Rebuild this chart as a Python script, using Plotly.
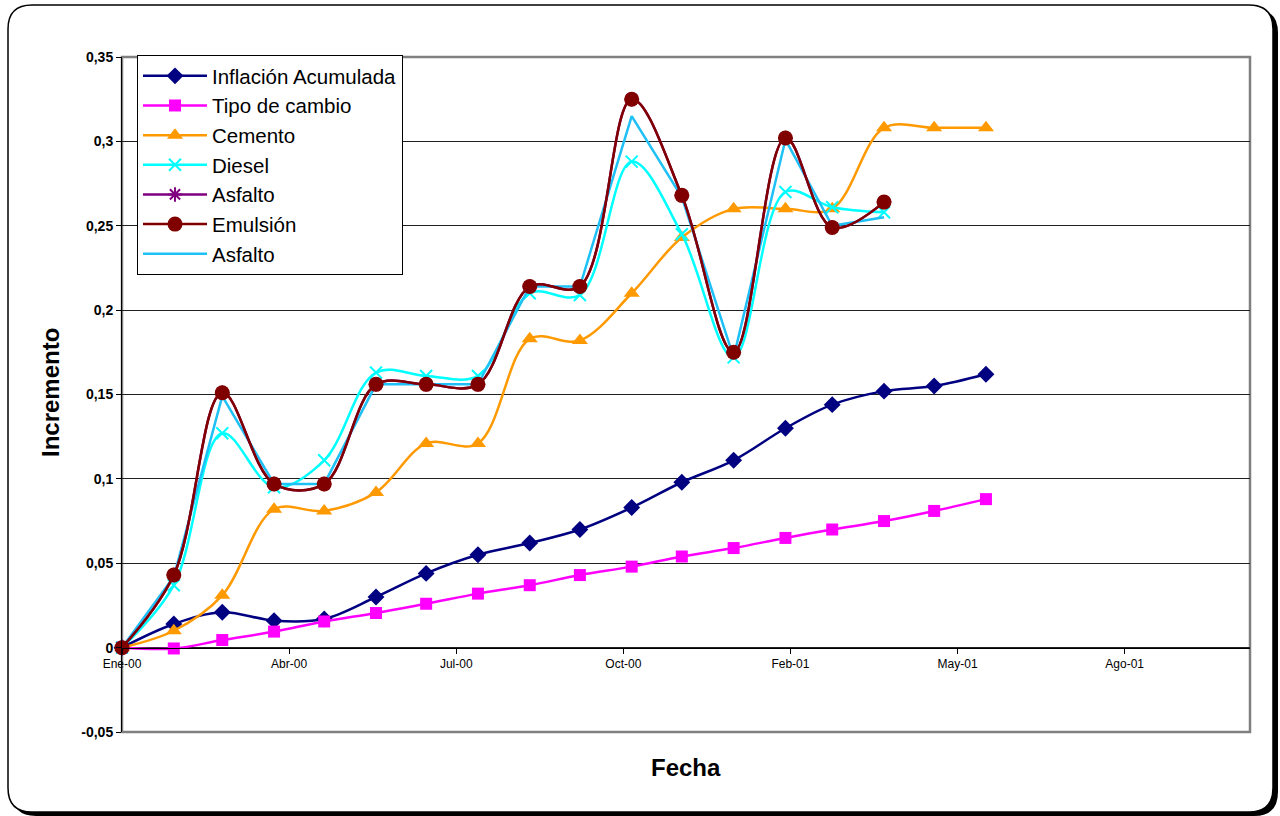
import plotly.graph_objects as go

# monthly observations (first day of each month)
dates = ["2000-01-01", "2000-02-01", "2000-03-01", "2000-04-01", "2000-05-01", "2000-06-01",
         "2000-07-01", "2000-08-01", "2000-09-01", "2000-10-01", "2000-11-01", "2000-12-01",
         "2001-01-01", "2001-02-01", "2001-03-01", "2001-04-01", "2001-05-01", "2001-06-01"]

inflacion = [0, 0.014, 0.021, 0.016, 0.017, 0.030, 0.044, 0.055, 0.062, 0.070, 0.083, 0.098,
             0.111, 0.130, 0.144, 0.152, 0.155, 0.162]
tipo_cambio = [0, -0.0005, 0.0045, 0.0095, 0.0155, 0.0205, 0.026, 0.032, 0.037, 0.043, 0.048,
               0.054, 0.059, 0.065, 0.070, 0.075, 0.081, 0.088]
cemento = [0, 0.010, 0.031, 0.082, 0.081, 0.092, 0.121, 0.121, 0.183, 0.182, 0.210, 0.243,
           0.260, 0.260, 0.260, 0.308, 0.308, 0.308]
diesel = [0, 0.037, 0.127, 0.095, 0.111, 0.163, 0.161, 0.161, 0.210, 0.209, 0.288, 0.245,
          0.172, 0.270, 0.261, 0.258]
asfalto = [0, 0.043, 0.151, 0.097, 0.097, 0.156, 0.156, 0.156, 0.214, 0.214, 0.325, 0.268,
           0.175, 0.302, 0.249, 0.264]
emulsion = [0, 0.043, 0.151, 0.097, 0.097, 0.156, 0.156, 0.156, 0.214, 0.214, 0.325, 0.268,
            0.175, 0.302, 0.249, 0.264]
asfalto_2 = [0, 0.042, 0.149, 0.097, 0.097, 0.156, 0.156, 0.156, 0.214, 0.214, 0.315, 0.267,
             0.172, 0.301, 0.250, 0.255]

# x ticks every 100 days, as in the original spreadsheet
x_tick_dates = ["2000-01-01", "2000-04-10", "2000-07-19", "2000-10-27", "2001-02-04",
                "2001-05-15", "2001-08-23"]
x_tick_labels = ["Ene-00", "Abr-00", "Jul-00", "Oct-00", "Feb-01", "May-01", "Ago-01"]
y_tick_vals = [-0.05, 0, 0.05, 0.1, 0.15, 0.2, 0.25, 0.3, 0.35]
y_tick_labels = ["-0,05", "0", "0,05", "0,1", "0,15", "0,2", "0,25", "0,3", "0,35"]

W, H = 1280, 816
L, R, T, B = 122, 30, 57, 84
FONT = "Arial, Liberation Sans, sans-serif"


def to_paper(px, py):
    return (px - L) / (W - L - R), (H - B - py) / (H - T - B)


def rounded_rect(x0, y0, x1, y1, r):
    pts = [("M", x0 + r, y0), ("L", x1 - r, y0), ("Q", x1, y0), ("", x1, y0 + r),
           ("L", x1, y1 - r), ("Q", x1, y1), ("", x1 - r, y1), ("L", x0 + r, y1),
           ("Q", x0, y1), ("", x0, y1 - r), ("L", x0, y0 + r), ("Q", x0, y0), ("", x0 + r, y0)]
    out = []
    for cmd, px, py in pts:
        a, b = to_paper(px, py)
        out.append(f"{cmd}{a:.5f},{b:.5f}")
    return " ".join(out) + " Z"


fig = go.Figure()

series = [
    # name, values, color, symbol, size, rank, smooth
    ("Inflación Acumulada", inflacion, "#000080", "diamond", 13, 1, True),
    ("Tipo de cambio", tipo_cambio, "#FF00FF", "square", 12, 2, True),
    ("Cemento", cemento, "#FF9900", "triangle-up", 14, 3, True),
    ("Diesel", diesel, "#00FFFF", "x-thin", 12, 4, True),
    ("Asfalto", asfalto_2, "#1EC0F5", None, 0, 7, False),
    ("Asfalto", asfalto, "#800080", "asterisk", 12, 5, True),
    ("Emulsión", emulsion, "#800000", "circle", 15, 6, True),
]

for name, vals, color, symbol, size, rank, smooth in series:
    line = dict(color=color, width=2.5)
    if smooth:
        line.update(shape="spline", smoothing=1)
    kw = {}
    if symbol:
        kw["mode"] = "lines+markers"
        kw["marker"] = dict(symbol=symbol, size=size, color=color,
                            line=dict(color=color, width=2 if symbol in ("x-thin", "asterisk") else 0))
    else:
        kw["mode"] = "lines"
    fig.add_trace(go.Scatter(
        x=dates[:len(vals)], y=vals, name=name, line=line,
        legendrank=rank, legendgroup=f"g{rank}", cliponaxis=False, **kw
    ))

frame_shadow = rounded_rect(12, 9, 1278, 816, 24)
frame = rounded_rect(8, 5, 1273, 812, 24)

fig.update_layout(
    width=W, height=H,
    margin=dict(l=L, r=R, t=T, b=B),
    paper_bgcolor="white",
    plot_bgcolor="#E2E2E2",
    font=dict(family=FONT, color="black"),
    showlegend=True,
    legend=dict(
        x=to_paper(137, 55)[0], y=to_paper(137, 55)[1], xanchor="left", yanchor="top",
        bgcolor="white", bordercolor="black", borderwidth=1,
        font=dict(size=20.5, family=FONT, color="black"),
        tracegroupgap=0, itemwidth=64, traceorder="grouped",
    ),
    xaxis=dict(
        type="date", range=["2000-01-01", "2001-11-06"],
        tickvals=x_tick_dates, ticktext=x_tick_labels,
        tickfont=dict(size=12, family=FONT, color="black"),
        ticks="outside", ticklen=5, tickcolor="black",
        showgrid=False, zeroline=False, showline=True, linecolor="black", linewidth=1,
        anchor="free", position=0.125,
    ),
    yaxis=dict(
        range=[-0.05, 0.35],
        tickvals=y_tick_vals, ticktext=y_tick_labels,
        tickfont=dict(size=14, family=FONT, color="black", weight="bold"),
        ticks="outside", ticklen=5, tickcolor="black",
        showgrid=True, gridcolor="#202020", gridwidth=1,
        zeroline=False, showline=True, linecolor="black", linewidth=1,
    ),
    shapes=[
        dict(type="path", xref="paper", yref="paper", path=frame_shadow,
             fillcolor="black", line=dict(width=0), layer="below"),
        dict(type="path", xref="paper", yref="paper", path=frame,
             fillcolor="white", line=dict(color="black", width=1.5), layer="below"),
        dict(type="rect", xref="paper", yref="paper", x0=0, y0=0, x1=1, y1=1,
             line=dict(color="#808080", width=2.5), layer="below"),
    ],
    annotations=[
        dict(text="<b>Fecha</b>", xref="paper", yref="paper",
             x=to_paper(686, 768)[0], y=to_paper(686, 768)[1],
             xanchor="center", yanchor="middle",
             showarrow=False, font=dict(size=24, family=FONT, color="black")),
        dict(text="<b>Incremento</b>", xref="paper", yref="paper",
             x=to_paper(50, 393)[0], y=to_paper(50, 393)[1], textangle=-90,
             xanchor="center", yanchor="middle",
             showarrow=False, font=dict(size=24, family=FONT, color="black")),
    ],
)

# drop the default page margin so the chart sits at the window origin
fig.write_html("out.html", config={"displayModeBar": False},
               post_script="document.body.style.margin='0';")
